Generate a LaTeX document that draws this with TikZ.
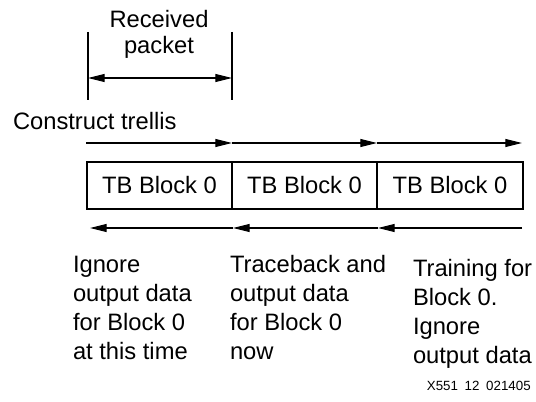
\documentclass[tikz,border=0pt]{standalone}
\usepackage{fontspec}
\setmainfont{Liberation Sans}
\usetikzlibrary{arrows.meta}
\begin{document}
\begin{tikzpicture}[x=0.75pt,y=-0.75pt,
  lbl/.style={inner sep=0pt,outer sep=0pt,font=\fontsize{17.8}{19.5}\selectfont},
  col/.style={lbl,font=\fontsize{17.8}{21.75}\selectfont,align=left,anchor=base west},
  cell/.style={draw,line width=1.5pt,minimum height=35.25pt,inner sep=0pt,outer sep=0pt,
    font=\fontsize{17.8}{21}\selectfont},
  flow/.style={line width=0.8pt,-{Triangle[length=12.5pt,width=6pt]}},
  tick/.style={line width=0.9pt},
  dim/.style={line width=0.8pt,{Triangle[length=12.5pt,width=6pt]}-{Triangle[length=12.5pt,width=6pt]}}]
\useasboundingbox (0,0) rectangle (536,402);

% received packet span
\coordinate (pa) at (88,32);
\coordinate (pb) at (88,100);
\coordinate (pc) at (232,32);
\coordinate (pd) at (232,100);
\draw[tick] (pa) -- (pb);
\draw[tick] (pc) -- (pd);
\coordinate (da) at (88,78);
\coordinate (db) at (232,78);
\draw[dim] (da) -- (db);
% base anchor of a multi-line node sits on its last line
\node[lbl,anchor=base,align=center] (rp) at (159,54) {Received\\packet};

\node[lbl,anchor=base west] (ct) at (13,130) {Construct trellis};

% the three blocks
\node[cell,minimum width=108.75pt,anchor=north west] (b1) at (87,162) {TB Block 0};
\node[cell,minimum width=108.75pt,anchor=north west] (b2) at (b1.north east) {TB Block 0};
\node[cell,minimum width=109.5pt,anchor=north west] (b3) at (b2.north east) {TB Block 0};

% forward pass
\coordinate (f0) at (86,143);
\coordinate (f1) at (232,143);
\coordinate (f2) at (377,143);
\coordinate (f3) at (522,143);
\draw[flow] (f0) -- (f1);
\draw[flow] (f1) -- (f2);
\draw[flow] (f2) -- (f3);

% traceback pass
\coordinate (r0) at (90,228);
\coordinate (r1) at (233,228);
\coordinate (r2) at (378,228);
\coordinate (r3) at (522,228);
\draw[flow] (r3) -- (r2);
\draw[flow] (r2) -- (r1);
\draw[flow] (r1) -- (r0);

\node[col] (t1) at (73,360) {Ignore\\output data\\for Block 0\\at this time};
\node[col] (t2) at (230,360) {Traceback and\\output data\\for Block 0\\now};
\node[col] (t3) at (413,364) {Training for\\Block 0.\\Ignore\\output data};

\node[inner sep=0pt,anchor=base east,font=\fontsize{10}{12}\selectfont] (id) at (531,391) {X551\enspace12\enspace021405};
\end{tikzpicture}
\end{document}
